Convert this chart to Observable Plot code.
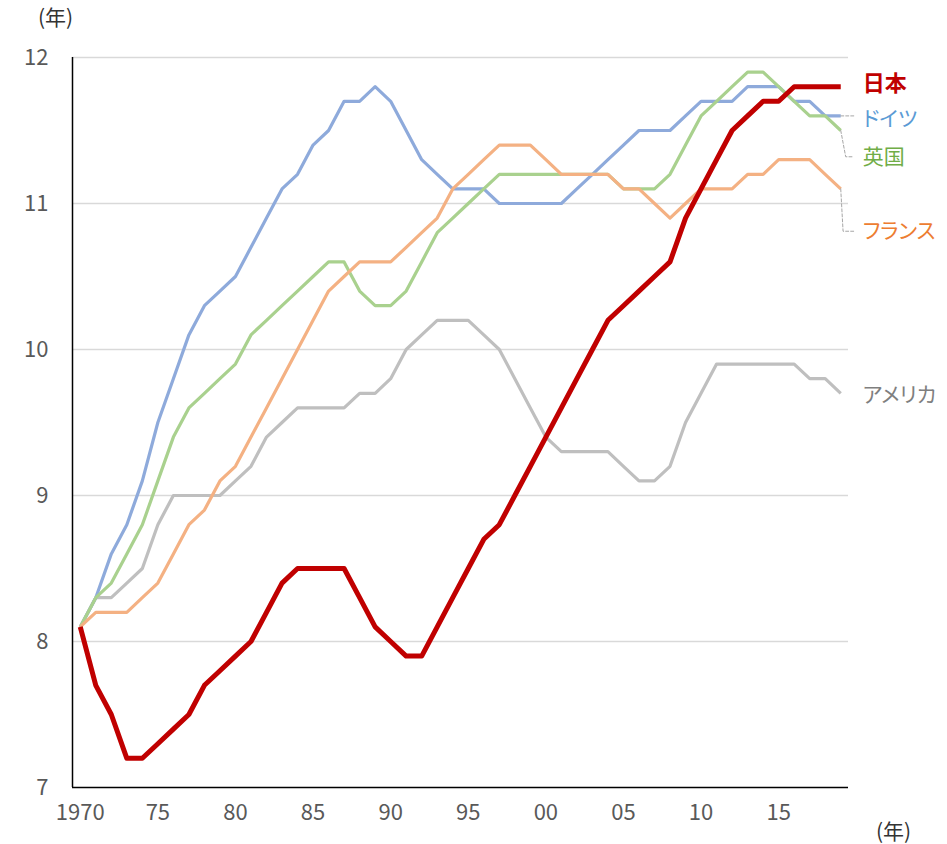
<!DOCTYPE html>
<html>
<head>
<meta charset="utf-8">
<script src="https://cdn.jsdelivr.net/npm/d3@7"></script>
<script src="https://cdn.jsdelivr.net/npm/@observablehq/plot@0.6"></script>
<style>
  html, body { margin: 0; padding: 0; background: #fff; }
  #chart text { font-feature-settings: "palt"; }
</style>
</head>
<body>
<div id="chart"></div>
<script>
const years = [1970,1971,1972,1973,1974,1975,1976,1977,1978,1979,
  1980,1981,1982,1983,1984,1985,1986,1987,1988,1989,
  1990,1991,1992,1993,1994,1995,1996,1997,1998,1999,
  2000,2001,2002,2003,2004,2005,2006,2007,2008,2009,
  2010,2011,2012,2013,2014,2015,2016,2017,2018,2019];

const japan = [8.1,7.7,7.5,7.2,7.2,7.3,7.4,7.5,7.7,7.8,
  7.9,8.0,8.2,8.4,8.5,8.5,8.5,8.5,8.3,8.1,
  8.0,7.9,7.9,8.1,8.3,8.5,8.7,8.8,9.0,9.2,
  9.4,9.6,9.8,10.0,10.2,10.3,10.4,10.5,10.6,10.9,
  11.1,11.3,11.5,11.6,11.7,11.7,11.8,11.8,11.8,11.8];

const germany = [8.1,8.3,8.6,8.8,9.1,9.5,9.8,10.1,10.3,10.4,
  10.5,10.7,10.9,11.1,11.2,11.4,11.5,11.7,11.7,11.8,
  11.7,11.5,11.3,11.2,11.1,11.1,11.1,11.0,11.0,11.0,
  11.0,11.0,11.1,11.2,11.3,11.4,11.5,11.5,11.5,11.6,
  11.7,11.7,11.7,11.8,11.8,11.8,11.7,11.7,11.6,11.6];

const uk = [8.1,8.3,8.4,8.6,8.8,9.1,9.4,9.6,9.7,9.8,
  9.9,10.1,10.2,10.3,10.4,10.5,10.6,10.6,10.4,10.3,
  10.3,10.4,10.6,10.8,10.9,11.0,11.1,11.2,11.2,11.2,
  11.2,11.2,11.2,11.2,11.2,11.1,11.1,11.1,11.2,11.4,
  11.6,11.7,11.8,11.9,11.9,11.8,11.7,11.6,11.6,11.5];

const france = [8.1,8.2,8.2,8.2,8.3,8.4,8.6,8.8,8.9,9.1,
  9.2,9.4,9.6,9.8,10.0,10.2,10.4,10.5,10.6,10.6,
  10.6,10.7,10.8,10.9,11.1,11.2,11.3,11.4,11.4,11.4,
  11.3,11.2,11.2,11.2,11.2,11.1,11.1,11.0,10.9,11.0,
  11.1,11.1,11.1,11.2,11.2,11.3,11.3,11.3,11.2,11.1];

const usa = [8.1,8.3,8.3,8.4,8.5,8.8,9.0,9.0,9.0,9.0,
  9.1,9.2,9.4,9.5,9.6,9.6,9.6,9.6,9.7,9.7,
  9.8,10.0,10.1,10.2,10.2,10.2,10.1,10.0,9.8,9.6,
  9.4,9.3,9.3,9.3,9.3,9.2,9.1,9.1,9.2,9.5,
  9.7,9.9,9.9,9.9,9.9,9.9,9.9,9.8,9.8,9.7];

const countryNames = ["日本", "ドイツ", "英国", "フランス", "アメリカ"];
const xTicks = [1970,1975,1980,1985,1990,1995,2000,2005,2010,2015];
const xTickLabels = ["1970","75","80","85","90","95","00","05","10","15"];
const yTicks = [7,8,9,10,11,12];
const yTickLabels = ["7","8","9","10","11","12"];
const unitLabel = "(年)";

// styles / annotation layout (not data)
const series = [
  {name: countryNames[4], values: usa,     stroke: "#BFBFBF", width: 3.2, text: "#7F7F7F", labelY: 9.685, bold: false},
  {name: countryNames[1], values: germany, stroke: "#8EAADB", width: 3.2, text: "#5B9BD5", labelY: 11.58, bold: false},
  {name: countryNames[2], values: uk,      stroke: "#A9D18E", width: 3.2, text: "#70AD47", labelY: 11.32, bold: false},
  {name: countryNames[3], values: france,  stroke: "#F4B183", width: 3.2, text: "#ED7D31", labelY: 10.81, bold: false},
  {name: countryNames[0], values: japan,   stroke: "#C00000", width: 5,   text: "#C00000", labelY: 11.82, bold: true}
];

const lastYear = years[years.length - 1];

const lineMarks = series.map(s => Plot.line(
  years.map((yr, i) => ({year: yr, value: s.values[i]})),
  {x: "year", y: "value", stroke: s.stroke, strokeWidth: s.width, strokeLinejoin: "round", strokeLinecap: "butt"}
));

const labelMarks = series.map(s => Plot.text([s], {
  x: () => lastYear, y: d => d.labelY, text: d => d.name,
  fill: s.text, textAnchor: "start", dx: 22, lineAnchor: "middle",
  fontSize: s.bold ? 22 : 21, fontWeight: s.bold ? "bold" : "normal"
}));

const leaderFor = (s, bendDx) => {
  const endVal = s.values[s.values.length - 1];
  return [
    {x: lastYear, y: endVal},
    {x: lastYear + bendDx, y: s.labelY},
    {x: lastYear + 0.85, y: s.labelY}
  ];
};
const leaders = [
  [{x: lastYear, y: germany[germany.length-1]}, {x: lastYear + 0.85, y: germany[germany.length-1]}],
  leaderFor(series[2], 0.32),
  leaderFor(series[3], 0.15)
];
const leaderMarks = leaders.map(pts => Plot.line(pts, {
  x: "x", y: "y", stroke: "#A6A6A6", strokeWidth: 1, strokeDasharray: "3,2"
}));

const chart = Plot.plot({
  width: 947,
  height: 844,
  marginLeft: 72,
  marginRight: 99,
  marginTop: 57,
  marginBottom: 57,
  style: {fontFamily: "'Noto Sans CJK JP', 'Noto Sans', sans-serif", fontSize: "20px", color: "#595959", background: "#fff", overflow: "visible"},
  x: {domain: [1969.5, 2019.5]},
  y: {domain: [7, 12]},
  marks: [
    Plot.ruleY(yTicks.slice(1), {stroke: "#D9D9D9", strokeWidth: 1.5}),
    ...lineMarks,
    ...leaderMarks,
    Plot.ruleX([1969.5], {y1: 7, y2: 12, stroke: "#000", strokeWidth: 1.5}),
    Plot.ruleY([7], {stroke: "#000", strokeWidth: 1.5}),
    Plot.axisY(yTicks, {tickSize: 0, tickPadding: 24, tickFormat: d => yTickLabels[yTicks.indexOf(d)], fontSize: 22, fill: "#595959"}),
    Plot.axisX(xTicks, {tickSize: 0, tickPadding: 17, tickFormat: d => xTickLabels[xTicks.indexOf(d)], fontSize: 22, fill: "#595959"}),
    ...labelMarks,
    Plot.text([unitLabel], {frameAnchor: "top-left", dx: -17, dy: -39, text: d => d, fill: "#333", fontSize: 21, textAnchor: "middle", lineAnchor: "middle"}),
    Plot.text([unitLabel], {frameAnchor: "bottom-right", dx: 45, dy: 45, text: d => d, fill: "#333", fontSize: 21, textAnchor: "middle", lineAnchor: "middle"})
  ]
});
document.getElementById("chart").appendChild(chart);
</script>
</body>
</html>
